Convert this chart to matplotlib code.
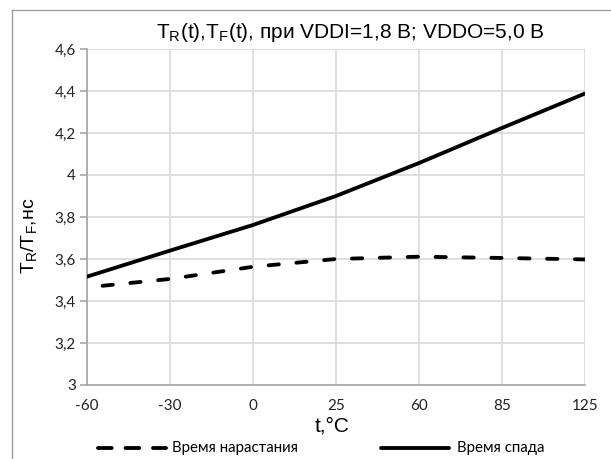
import matplotlib
matplotlib.use("Agg")
import matplotlib.pyplot as plt
from matplotlib.lines import Line2D

categories = ["-60", "-30", "0", "25", "60", "85", "125"]
t_rise = [3.465, 3.505, 3.563, 3.600, 3.611, 3.605, 3.598]
t_fall = [3.516, 3.640, 3.762, 3.900, 4.057, 4.224, 4.388]
y_ticks = [3.0, 3.2, 3.4, 3.6, 3.8, 4.0, 4.2, 4.4, 4.6]
y_tick_labels = ["3", "3,2", "3,4", "3,6", "3,8", "4", "4,2", "4,4", "4,6"]

W, H = 611, 459
fig = plt.figure(figsize=(W / 100, H / 100), dpi=100)
ax = fig.add_axes([87 / W, 1 - 385 / H, (585 - 87) / W, (385 - 49) / H])

x = list(range(len(categories)))
grid_c = "#d9d9d9"
spine_c = "#a6a6a6"
LW = 2.75

ax.plot(x, t_fall, color="black", lw=LW, solid_capstyle="round", zorder=3)
ax.plot(x, t_rise, color="black", lw=LW, linestyle=(3.2, (2.7, 4.6)),
        dash_capstyle="round", zorder=3)

ax.set_xlim(0, len(categories) - 1)
ax.set_ylim(3.0, 4.6)
ax.set_xticks(x)
ax.set_xticklabels(categories)
ax.set_yticks(y_ticks)
ax.set_yticklabels(y_tick_labels)
ax.grid(True, color=grid_c, lw=1.2)
ax.set_axisbelow(True)
for s in ["top", "right"]:
    ax.spines[s].set_visible(False)
for s in ["left", "bottom"]:
    ax.spines[s].set_color(spine_c)
    ax.spines[s].set_linewidth(1.2)
ax.tick_params(axis="y", length=5, color=spine_c, width=1.2, pad=3)
ax.tick_params(axis="x", length=0, pad=15)
for lab in ax.get_xticklabels() + ax.get_yticklabels():
    lab.set_fontfamily("Lato")
    lab.set_fontsize(11)
    lab.set_color("#222222")
for lab in ax.get_xticklabels():
    lab.set_verticalalignment("center")

fig.text(350 / W, 1 - 33 / H, r"T$_\mathregular{R}$(t),T$_\mathregular{F}$(t), при VDDI=1,8 В; VDDO=5,0 В",
         ha="center", va="center", fontsize=15, family="Liberation Sans")
fig.text(332 / W, 1 - 426 / H, "t,°C", ha="center", va="center",
         fontsize=15, family="Liberation Sans")
fig.text(30 / W, 1 - 236 / H, r"T$_\mathregular{R}$/T$_\mathregular{F}$,нс", ha="center", va="center",
         rotation=90, fontsize=14, family="Liberation Sans")

# legend
ly = 1 - 448 / H
fig.add_artist(Line2D([98 / W, 166 / W], [ly, ly], color="black", lw=LW,
                      linestyle=(0, (3.6, 3.6)), dash_capstyle="round"))
fig.text(172 / W, ly, "Время нарастания", ha="left", va="center",
         fontsize=10.8, family="Lato")
fig.add_artist(Line2D([381 / W, 449 / W], [ly, ly], color="black", lw=LW,
                      solid_capstyle="round"))
fig.text(457 / W, ly, "Время спада", ha="left", va="center",
         fontsize=10.8, family="Lato")

# chart area border
bc = "#a0a0a0"
fig.add_artist(Line2D([12 / W, 12 / W], [0, 1 - 10 / H], color=bc, lw=1.0))
fig.add_artist(Line2D([12 / W, 1], [1 - 10 / H, 1 - 10 / H], color=bc, lw=1.0))

fig.savefig("out.png", dpi=100)
